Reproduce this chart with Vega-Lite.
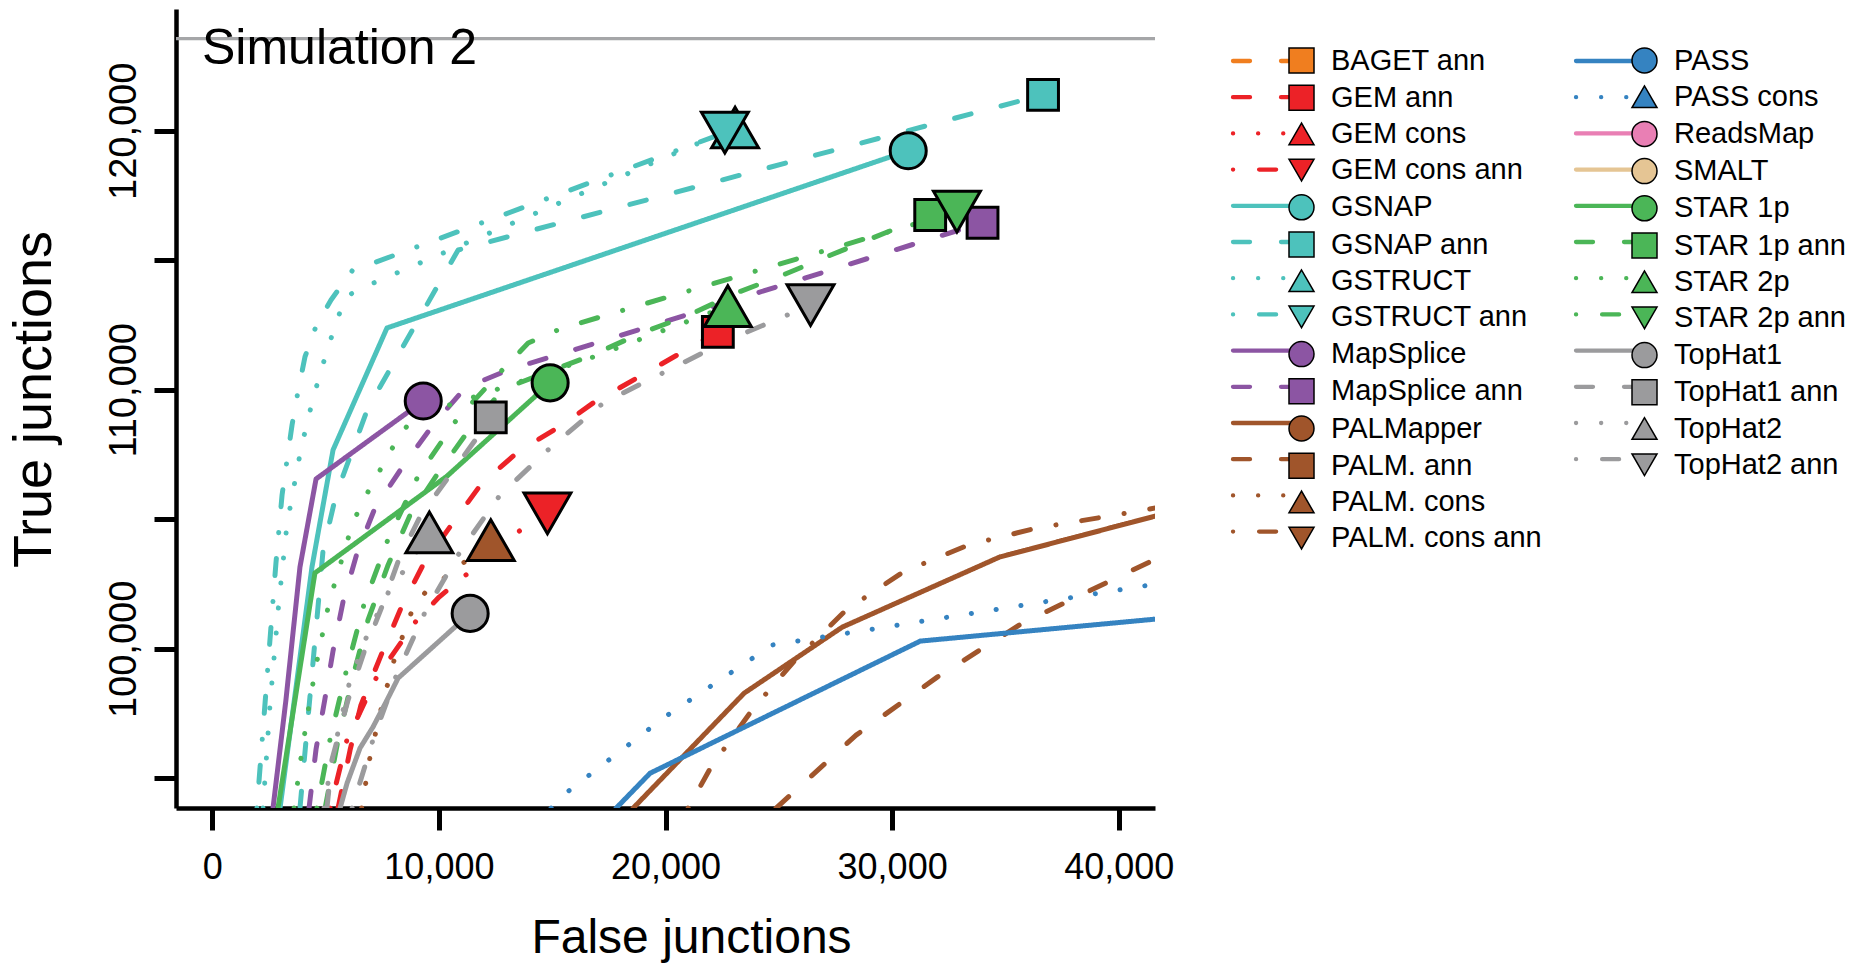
{
  "$schema": "https://vega.github.io/schema/vega-lite/v6.json",
  "width": 979,
  "height": 799,
  "autosize": {"type": "none"},
  "padding": {"left": 176, "top": 9, "right": 711, "bottom": 155},
  "background": "white",
  "title": {"text": "Simulation 2", "anchor": "start", "frame": "group", "orient": "top", "offset": -105, "dx": 26, "fontSize": 50, "font": "Liberation Sans", "fontWeight": "normal", "baseline": "alphabetic", "color": "black"},
  "datasets": {
    "curves": [
      {"series": "GSNAP", "x": 2990, "y": 93850}, {"series": "GSNAP", "x": 4400, "y": 103160}, {"series": "GSNAP", "x": 5330, "y": 107680}, {"series": "GSNAP", "x": 7710, "y": 112390}, {"series": "GSNAP", "x": 30710, "y": 119230},
      {"series": "GSNAP ann", "x": 3870, "y": 93850}, {"series": "GSNAP ann", "x": 4890, "y": 103810}, {"series": "GSNAP ann", "x": 5460, "y": 105940}, {"series": "GSNAP ann", "x": 6870, "y": 109300}, {"series": "GSNAP ann", "x": 10850, "y": 115400}, {"series": "GSNAP ann", "x": 36660, "y": 121390},
      {"series": "GSTRUCT", "x": 2240, "y": 93850}, {"series": "GSTRUCT", "x": 2550, "y": 97870}, {"series": "GSTRUCT", "x": 2940, "y": 101810}, {"series": "GSTRUCT", "x": 3300, "y": 104820}, {"series": "GSTRUCT", "x": 3920, "y": 107750}, {"series": "GSTRUCT", "x": 4450, "y": 109680}, {"series": "GSTRUCT", "x": 5110, "y": 111650}, {"series": "GSTRUCT", "x": 5860, "y": 113580}, {"series": "GSTRUCT", "x": 6700, "y": 113970}, {"series": "GSTRUCT", "x": 23070, "y": 120130},
      {"series": "GSTRUCT ann", "x": 1970, "y": 93850}, {"series": "GSTRUCT ann", "x": 2330, "y": 97910}, {"series": "GSTRUCT ann", "x": 2810, "y": 103310}, {"series": "GSTRUCT ann", "x": 3080, "y": 105940}, {"series": "GSTRUCT ann", "x": 3520, "y": 108640}, {"series": "GSTRUCT ann", "x": 3780, "y": 109920}, {"series": "GSTRUCT ann", "x": 4090, "y": 111270}, {"series": "GSTRUCT ann", "x": 4580, "y": 112460}, {"series": "GSTRUCT ann", "x": 5240, "y": 113470}, {"series": "GSTRUCT ann", "x": 6170, "y": 114590}, {"series": "GSTRUCT ann", "x": 22620, "y": 119930},
      {"series": "MapSplice", "x": 2680, "y": 93850}, {"series": "MapSplice", "x": 3250, "y": 98020}, {"series": "MapSplice", "x": 3870, "y": 103160}, {"series": "MapSplice", "x": 4580, "y": 106560}, {"series": "MapSplice", "x": 9310, "y": 109570},
      {"series": "MapSplice ann", "x": 4270, "y": 93850}, {"series": "MapSplice ann", "x": 4580, "y": 96130}, {"series": "MapSplice ann", "x": 4970, "y": 98060}, {"series": "MapSplice ann", "x": 5330, "y": 99920}, {"series": "MapSplice ann", "x": 5770, "y": 101810}, {"series": "MapSplice ann", "x": 6390, "y": 103700}, {"series": "MapSplice ann", "x": 7180, "y": 105440}, {"series": "MapSplice ann", "x": 8420, "y": 107060}, {"series": "MapSplice ann", "x": 9740, "y": 108640}, {"series": "MapSplice ann", "x": 11150, "y": 110070}, {"series": "MapSplice ann", "x": 13140, "y": 110800}, {"series": "MapSplice ann", "x": 15210, "y": 111340}, {"series": "MapSplice ann", "x": 33990, "y": 116450},
      {"series": "STAR 1p", "x": 2900, "y": 93850}, {"series": "STAR 1p", "x": 4530, "y": 102930}, {"series": "STAR 1p", "x": 10360, "y": 106670}, {"series": "STAR 1p", "x": 14910, "y": 110270},
      {"series": "STAR 1p ann", "x": 4980, "y": 93850}, {"series": "STAR 1p ann", "x": 5550, "y": 96480}, {"series": "STAR 1p ann", "x": 6170, "y": 98800}, {"series": "STAR 1p ann", "x": 6870, "y": 101110}, {"series": "STAR 1p ann", "x": 7760, "y": 103240}, {"series": "STAR 1p ann", "x": 8730, "y": 105170}, {"series": "STAR 1p ann", "x": 10050, "y": 106900}, {"series": "STAR 1p ann", "x": 11330, "y": 108450}, {"series": "STAR 1p ann", "x": 12830, "y": 110030}, {"series": "STAR 1p ann", "x": 16760, "y": 111340}, {"series": "STAR 1p ann", "x": 18920, "y": 112190}, {"series": "STAR 1p ann", "x": 20950, "y": 112850}, {"series": "STAR 1p ann", "x": 23120, "y": 113740}, {"series": "STAR 1p ann", "x": 25060, "y": 114390}, {"series": "STAR 1p ann", "x": 27090, "y": 115130}, {"series": "STAR 1p ann", "x": 29120, "y": 115860}, {"series": "STAR 1p ann", "x": 31680, "y": 116750},
      {"series": "STAR 2p", "x": 3610, "y": 93850}, {"series": "STAR 2p", "x": 3920, "y": 95820}, {"series": "STAR 2p", "x": 4270, "y": 97830}, {"series": "STAR 2p", "x": 4670, "y": 99760}, {"series": "STAR 2p", "x": 5150, "y": 101770}, {"series": "STAR 2p", "x": 5460, "y": 102700}, {"series": "STAR 2p", "x": 6120, "y": 104630}, {"series": "STAR 2p", "x": 6520, "y": 105510}, {"series": "STAR 2p", "x": 7090, "y": 106400}, {"series": "STAR 2p", "x": 7620, "y": 107250}, {"series": "STAR 2p", "x": 8200, "y": 108140}, {"series": "STAR 2p", "x": 8860, "y": 108910}, {"series": "STAR 2p", "x": 9920, "y": 109260}, {"series": "STAR 2p", "x": 11020, "y": 109570}, {"series": "STAR 2p", "x": 16450, "y": 111150}, {"series": "STAR 2p", "x": 22750, "y": 113230},
      {"series": "STAR 2p ann", "x": 4620, "y": 93850}, {"series": "STAR 2p ann", "x": 5200, "y": 96520}, {"series": "STAR 2p ann", "x": 5900, "y": 99100}, {"series": "STAR 2p ann", "x": 6700, "y": 101730}, {"series": "STAR 2p ann", "x": 7760, "y": 104240}, {"series": "STAR 2p ann", "x": 9080, "y": 106670}, {"series": "STAR 2p ann", "x": 10800, "y": 108870}, {"series": "STAR 2p ann", "x": 12920, "y": 110880}, {"series": "STAR 2p ann", "x": 13940, "y": 111810}, {"series": "STAR 2p ann", "x": 15350, "y": 112350}, {"series": "STAR 2p ann", "x": 17110, "y": 112810}, {"series": "STAR 2p ann", "x": 32860, "y": 116880},
      {"series": "TopHat1", "x": 5640, "y": 93850}, {"series": "TopHat1", "x": 5950, "y": 94820}, {"series": "TopHat1", "x": 6520, "y": 96170}, {"series": "TopHat1", "x": 7090, "y": 96980}, {"series": "TopHat1", "x": 7710, "y": 98020}, {"series": "TopHat1", "x": 8200, "y": 98870}, {"series": "TopHat1", "x": 11380, "y": 101370},
      {"series": "TopHat1 ann", "x": 5060, "y": 93850}, {"series": "TopHat1 ann", "x": 5280, "y": 95710}, {"series": "TopHat1 ann", "x": 5990, "y": 98020}, {"series": "TopHat1 ann", "x": 6700, "y": 99880}, {"series": "TopHat1 ann", "x": 7530, "y": 101730}, {"series": "TopHat1 ann", "x": 8240, "y": 103470}, {"series": "TopHat1 ann", "x": 9210, "y": 105170}, {"series": "TopHat1 ann", "x": 10490, "y": 106710}, {"series": "TopHat1 ann", "x": 11770, "y": 108260}, {"series": "TopHat1 ann", "x": 12290, "y": 108940},
      {"series": "TopHat2", "x": 4930, "y": 93850}, {"series": "TopHat2", "x": 5200, "y": 95320}, {"series": "TopHat2", "x": 5550, "y": 96790}, {"series": "TopHat2", "x": 6080, "y": 98800}, {"series": "TopHat2", "x": 6870, "y": 100610}, {"series": "TopHat2", "x": 7890, "y": 102390}, {"series": "TopHat2", "x": 8590, "y": 103160}, {"series": "TopHat2", "x": 9580, "y": 104500},
      {"series": "TopHat2 ann", "x": 6170, "y": 93850}, {"series": "TopHat2 ann", "x": 7090, "y": 96480}, {"series": "TopHat2 ann", "x": 8110, "y": 98950}, {"series": "TopHat2 ann", "x": 9390, "y": 101420}, {"series": "TopHat2 ann", "x": 10930, "y": 103740}, {"series": "TopHat2 ann", "x": 12700, "y": 105940}, {"series": "TopHat2 ann", "x": 14950, "y": 107790}, {"series": "TopHat2 ann", "x": 17250, "y": 109490}, {"series": "TopHat2 ann", "x": 22760, "y": 111920}, {"series": "TopHat2 ann", "x": 26400, "y": 113270},
      {"series": "GEM ann", "x": 5550, "y": 93850}, {"series": "GEM ann", "x": 6080, "y": 96090}, {"series": "GEM ann", "x": 6560, "y": 97830}, {"series": "GEM ann", "x": 7450, "y": 99760}, {"series": "GEM ann", "x": 8330, "y": 101580}, {"series": "GEM ann", "x": 9300, "y": 103240}, {"series": "GEM ann", "x": 10580, "y": 104820}, {"series": "GEM ann", "x": 11900, "y": 106400}, {"series": "GEM ann", "x": 13540, "y": 107640}, {"series": "GEM ann", "x": 15440, "y": 108640}, {"series": "GEM ann", "x": 16800, "y": 109490}, {"series": "GEM ann", "x": 22310, "y": 112240},
      {"series": "GEM cons ann", "x": 5200, "y": 93850}, {"series": "GEM cons ann", "x": 5940, "y": 96480}, {"series": "GEM cons ann", "x": 7230, "y": 98870}, {"series": "GEM cons ann", "x": 8990, "y": 101070}, {"series": "GEM cons ann", "x": 10010, "y": 102000}, {"series": "GEM cons ann", "x": 11240, "y": 102890}, {"series": "GEM cons ann", "x": 13610, "y": 104590}, {"series": "GEM cons ann", "x": 14790, "y": 105230},
      {"series": "PALM. cons", "x": 6590, "y": 93850}, {"series": "PALM. cons", "x": 6960, "y": 95820}, {"series": "PALM. cons", "x": 7480, "y": 97790}, {"series": "PALM. cons", "x": 8060, "y": 99680}, {"series": "PALM. cons", "x": 8860, "y": 101580}, {"series": "PALM. cons", "x": 9520, "y": 102310}, {"series": "PALM. cons", "x": 10490, "y": 102890}, {"series": "PALM. cons", "x": 12290, "y": 104200},
      {"series": "PALMapper", "x": 18570, "y": 93850}, {"series": "PALMapper", "x": 23470, "y": 98290}, {"series": "PALMapper", "x": 27800, "y": 100840}, {"series": "PALMapper", "x": 34730, "y": 103540}, {"series": "PALMapper", "x": 41630, "y": 105130},
      {"series": "PALM. ann", "x": 24880, "y": 93850}, {"series": "PALM. ann", "x": 28410, "y": 96670}, {"series": "PALM. ann", "x": 31990, "y": 98910}, {"series": "PALM. ann", "x": 35740, "y": 100990}, {"series": "PALM. ann", "x": 41630, "y": 103470},
      {"series": "PALM. cons ann", "x": 21000, "y": 93850}, {"series": "PALM. cons ann", "x": 22010, "y": 95440}, {"series": "PALM. cons ann", "x": 23820, "y": 97640}, {"series": "PALM. cons ann", "x": 25720, "y": 99570}, {"series": "PALM. cons ann", "x": 27970, "y": 101500}, {"series": "PALM. cons ann", "x": 30490, "y": 102970}, {"series": "PALM. cons ann", "x": 33360, "y": 104010}, {"series": "PALM. cons ann", "x": 36360, "y": 104660}, {"series": "PALM. cons ann", "x": 39320, "y": 105090}, {"series": "PALM. cons ann", "x": 41630, "y": 105440},
      {"series": "PASS", "x": 17820, "y": 93850}, {"series": "PASS", "x": 19320, "y": 95200}, {"series": "PASS", "x": 31240, "y": 100300}, {"series": "PASS", "x": 41630, "y": 101150},
      {"series": "PASS cons", "x": 14950, "y": 93850}, {"series": "PASS cons", "x": 15480, "y": 94350}, {"series": "PASS cons", "x": 19980, "y": 97380}, {"series": "PASS cons", "x": 24710, "y": 100150}, {"series": "PASS cons", "x": 25810, "y": 100300}, {"series": "PASS cons", "x": 41630, "y": 102500}
    ],
    "markers": [
      {"series": "GSNAP", "x": 30710, "y": 119230},
      {"series": "GSNAP ann", "x": 36660, "y": 121390},
      {"series": "MapSplice", "x": 9310, "y": 109570},
      {"series": "MapSplice ann", "x": 33990, "y": 116450},
      {"series": "GEM ann", "x": 22310, "y": 112240},
      {"series": "PALM. cons", "x": 12290, "y": 104200},
      {"series": "GSTRUCT", "x": 23070, "y": 120130},
      {"series": "GEM cons ann", "x": 14790, "y": 105230},
      {"series": "GSTRUCT ann", "x": 22620, "y": 119930},
      {"series": "STAR 1p", "x": 14910, "y": 110270},
      {"series": "STAR 1p ann", "x": 31680, "y": 116750},
      {"series": "TopHat1", "x": 11380, "y": 101370},
      {"series": "TopHat1 ann", "x": 12290, "y": 108940},
      {"series": "TopHat2", "x": 9580, "y": 104500},
      {"series": "STAR 2p", "x": 22750, "y": 113230},
      {"series": "TopHat2 ann", "x": 26400, "y": 113270},
      {"series": "STAR 2p ann", "x": 32860, "y": 116880}
    ]
  },
  "encoding": {
    "x": {"field": "x", "type": "quantitative", "scale": {"domain": [-1600, 41600], "nice": false, "zero": false},
      "axis": {"title": "False junctions", "values": [0, 10000, 20000, 30000, 40000], "format": ",.0f", "grid": false, "labelFontSize": 36, "labelFont": "Liberation Sans", "labelColor": "black", "labelPadding": 20, "labelFlush": false, "labelOverlap": false, "tickSize": 22, "tickWidth": 5, "tickColor": "black", "domainWidth": 4.5, "domainColor": "black", "domainCap": "butt", "titleFont": "Liberation Sans", "titleFontSize": 48, "titleFontWeight": "normal", "titleColor": "black", "titleX": 515, "titleY": 144, "titleBaseline": "alphabetic", "titleAlign": "center"}},
    "y": {"field": "y", "type": "quantitative", "scale": {"domain": [93857, 124703], "nice": false, "zero": false},
      "axis": {"title": "True junctions", "values": [95000, 100000, 105000, 110000, 115000, 120000], "labelExpr": "datum.value % 10000 === 0 ? format(datum.value, ',') : ''", "grid": false, "labelAngle": 270, "labelAlign": "center", "labelBaseline": "alphabetic", "labelFontSize": 38, "labelFont": "Liberation Sans", "labelColor": "black", "labelPadding": 19, "labelFlush": false, "labelOverlap": false, "tickSize": 22, "tickWidth": 5, "tickColor": "black", "domainWidth": 4.5, "domainColor": "black", "domainCap": "butt", "titleFont": "Liberation Sans", "titleFontSize": 54, "titleFontWeight": "normal", "titleColor": "black", "titleAngle": 270, "titleX": -126, "titleY": 390, "titleBaseline": "alphabetic", "titleAlign": "center"}}
  },
  "layer": [
    {"data": {"values": [{"y": 123560}]},
     "mark": {"type": "rule", "color": "#a5a6a8", "strokeWidth": 3.3},
     "encoding": {"x": null}},
    {
      "data": {"name": "curves"},
      "transform": [{"filter": {"field": "series", "oneOf": ["BAGET ann", "GEM ann", "GEM cons", "GEM cons ann", "GSNAP", "GSNAP ann", "GSTRUCT", "GSTRUCT ann", "MapSplice", "MapSplice ann", "PALMapper", "PALM. ann", "PALM. cons", "PALM. cons ann"]}}],
      "mark": {"type": "line", "strokeWidth": 5, "strokeCap": "round", "strokeJoin": "round", "clip": true},
      "encoding": {
        "stroke": {"field": "series", "type": "nominal",
          "scale": {"domain": ["PALM. cons ann", "PALM. cons", "PALM. ann", "PALMapper", "MapSplice ann", "MapSplice", "GSTRUCT ann", "GSTRUCT", "GSNAP ann", "GSNAP", "GEM cons ann", "GEM cons", "GEM ann", "BAGET ann"],
            "range": ["#a0552b", "#a0552b", "#a0552b", "#a0552b", "#8c55a3", "#8c55a3", "#4dc2bc", "#4dc2bc", "#4dc2bc", "#4dc2bc", "#ec2227", "#ec2227", "#ec2227", "#f07e1f"]},
          "legend": {"values": ["BAGET ann", "GEM ann", "GEM cons", "GEM cons ann", "GSNAP", "GSNAP ann", "GSTRUCT", "GSTRUCT ann", "MapSplice", "MapSplice ann", "PALMapper", "PALM. ann", "PALM. cons", "PALM. cons ann"], "orient": "none", "legendX": 1111, "legendY": 37, "title": null, "padding": 0, "symbolType": "M-5.52,0H0", "symbolSize": 625, "symbolStrokeWidth": 4.3, "labelFontSize": 29, "labelFont": "Liberation Sans", "labelExpr": "''", "labelOffset": 15, "rowPadding": 6.2, "labelLimit": 400, "encode": {"symbols": {"update": {"strokeCap": {"value": "round"}}}}}},
        "strokeDash": {"field": "series", "type": "nominal",
          "scale": {"domain": ["PALM. cons ann", "PALM. cons", "PALM. ann", "PALMapper", "MapSplice ann", "MapSplice", "GSTRUCT ann", "GSTRUCT", "GSNAP ann", "GSNAP", "GEM cons ann", "GEM cons", "GEM ann", "BAGET ann"],
            "range": [[0.1, 26, 17, 26], [0.1, 25], [17, 31], [1, 0], [17, 31], [1, 0], [0.1, 26, 17, 26], [0.1, 25], [17, 31], [1, 0], [0.1, 26, 17, 26], [0.1, 25], [17, 31], [17, 31]]},
          "legend": {"values": ["BAGET ann", "GEM ann", "GEM cons", "GEM cons ann", "GSNAP", "GSNAP ann", "GSTRUCT", "GSTRUCT ann", "MapSplice", "MapSplice ann", "PALMapper", "PALM. ann", "PALM. cons", "PALM. cons ann"], "orient": "none", "legendX": 1111, "legendY": 37, "title": null, "padding": 0, "symbolType": "M-5.52,0H0", "symbolSize": 625, "symbolStrokeWidth": 4.3, "labelFontSize": 29, "labelFont": "Liberation Sans", "labelExpr": "''", "labelOffset": 15, "rowPadding": 6.2, "labelLimit": 400}}
      }
    },
    {
      "data": {"name": "curves"},
      "transform": [{"filter": {"field": "series", "oneOf": ["PASS", "PASS cons", "ReadsMap", "SMALT", "STAR 1p", "STAR 1p ann", "STAR 2p", "STAR 2p ann", "TopHat1", "TopHat1 ann", "TopHat2", "TopHat2 ann"]}}],
      "mark": {"type": "line", "strokeWidth": 5, "strokeCap": "round", "strokeJoin": "round", "clip": true},
      "encoding": {
        "stroke": {"field": "series", "type": "nominal",
          "scale": {"domain": ["TopHat2 ann", "TopHat2", "TopHat1 ann", "TopHat1", "STAR 2p ann", "STAR 2p", "STAR 1p ann", "STAR 1p", "SMALT", "ReadsMap", "PASS cons", "PASS"],
            "range": ["#9b9b9d", "#9b9b9d", "#9b9b9d", "#9b9b9d", "#4bb657", "#4bb657", "#4bb657", "#4bb657", "#e5c594", "#e97fb4", "#3583c1", "#3583c1"]},
          "legend": {"values": ["PASS", "PASS cons", "ReadsMap", "SMALT", "STAR 1p", "STAR 1p ann", "STAR 2p", "STAR 2p ann", "TopHat1", "TopHat1 ann", "TopHat2", "TopHat2 ann"], "orient": "none", "legendX": 1454, "legendY": 37, "title": null, "padding": 0, "symbolType": "M-5.52,0H0", "symbolSize": 625, "symbolStrokeWidth": 4.3, "labelFontSize": 29, "labelFont": "Liberation Sans", "labelExpr": "''", "labelOffset": 15, "rowPadding": 6.2, "labelLimit": 400, "encode": {"symbols": {"update": {"strokeCap": {"value": "round"}}}}}},
        "strokeDash": {"field": "series", "type": "nominal",
          "scale": {"domain": ["TopHat2 ann", "TopHat2", "TopHat1 ann", "TopHat1", "STAR 2p ann", "STAR 2p", "STAR 1p ann", "STAR 1p", "SMALT", "ReadsMap", "PASS cons", "PASS"],
            "range": [[0.1, 26, 17, 26], [0.1, 25], [17, 31], [1, 0], [0.1, 26, 17, 26], [0.1, 25], [17, 31], [1, 0], [1, 0], [1, 0], [0.1, 25], [1, 0]]},
          "legend": {"values": ["PASS", "PASS cons", "ReadsMap", "SMALT", "STAR 1p", "STAR 1p ann", "STAR 2p", "STAR 2p ann", "TopHat1", "TopHat1 ann", "TopHat2", "TopHat2 ann"], "orient": "none", "legendX": 1454, "legendY": 37, "title": null, "padding": 0, "symbolType": "M-5.52,0H0", "symbolSize": 625, "symbolStrokeWidth": 4.3, "labelFontSize": 29, "labelFont": "Liberation Sans", "labelExpr": "''", "labelOffset": 15, "rowPadding": 6.2, "labelLimit": 400}}
      }
    },
    {
      "data": {"name": "markers"},
      "transform": [{"filter": {"field": "series", "oneOf": ["BAGET ann", "GEM ann", "GEM cons", "GEM cons ann", "GSNAP", "GSNAP ann", "GSTRUCT", "GSTRUCT ann", "MapSplice", "MapSplice ann", "PALMapper", "PALM. ann", "PALM. cons", "PALM. cons ann"]}}],
      "mark": {"type": "point", "filled": true, "stroke": "black", "strokeWidth": 3, "opacity": 1},
      "encoding": {
        "fill": {"field": "series", "type": "nominal",
          "scale": {"domain": ["BAGET ann", "GEM ann", "GEM cons", "GEM cons ann", "GSNAP", "GSNAP ann", "GSTRUCT", "GSTRUCT ann", "MapSplice", "MapSplice ann", "PALMapper", "PALM. ann", "PALM. cons", "PALM. cons ann"],
            "range": ["#f07e1f", "#ec2227", "#ec2227", "#ec2227", "#4dc2bc", "#4dc2bc", "#4dc2bc", "#4dc2bc", "#8c55a3", "#8c55a3", "#a0552b", "#a0552b", "#a0552b", "#a0552b"]},
          "legend": {"orient": "none", "legendX": 1111, "legendY": 37, "title": null, "padding": 0, "symbolSize": 625, "labelFontSize": 29, "labelFont": "Liberation Sans", "labelColor": "black", "labelOffset": 15, "rowPadding": 6.2, "labelLimit": 400,
            "encode": {"symbols": {"update": {"stroke": {"value": "black"}, "strokeWidth": {"value": 2}, "opacity": {"value": 1}, "size": {"signal": "indexof(['GEM cons','GEM cons ann','GSTRUCT','GSTRUCT ann','PALM. cons','PALM. cons ann','PASS cons','STAR 2p','STAR 2p ann','TopHat2','TopHat2 ann'], datum.value) >= 0 ? 620 : (indexof(['BAGET ann','GEM ann','GSNAP ann','MapSplice ann','PALM. ann','STAR 1p ann','TopHat1 ann'], datum.value) >= 0 ? 330 : 420)"}}}}}},
        "shape": {"field": "series", "type": "nominal",
          "scale": {"domain": ["BAGET ann", "GEM ann", "GEM cons", "GEM cons ann", "GSNAP", "GSNAP ann", "GSTRUCT", "GSTRUCT ann", "MapSplice", "MapSplice ann", "PALMapper", "PALM. ann", "PALM. cons", "PALM. cons ann"],
            "range": ["square", "square", "triangle-up", "triangle-down", "circle", "square", "triangle-up", "triangle-down", "circle", "square", "circle", "square", "triangle-up", "triangle-down"]},
          "legend": {"orient": "none", "legendX": 1111, "legendY": 37, "title": null, "padding": 0, "symbolSize": 625, "labelFontSize": 29, "labelFont": "Liberation Sans", "labelColor": "black", "labelOffset": 15, "rowPadding": 6.2, "labelLimit": 400}},
        "size": {"field": "series", "type": "nominal", "legend": null,
          "scale": {"type": "ordinal", "domain": ["PALM. cons ann", "PALM. cons", "PALM. ann", "PALMapper", "MapSplice ann", "MapSplice", "GSTRUCT ann", "GSTRUCT", "GSNAP ann", "GSNAP", "GEM cons ann", "GEM cons", "GEM ann", "BAGET ann"],
            "range": [2200, 2200, 950, 1300, 950, 1300, 2200, 2200, 950, 1300, 2200, 2200, 950, 950]}}
      }
    },
    {
      "data": {"name": "markers"},
      "transform": [{"filter": {"field": "series", "oneOf": ["PASS", "PASS cons", "ReadsMap", "SMALT", "STAR 1p", "STAR 1p ann", "STAR 2p", "STAR 2p ann", "TopHat1", "TopHat1 ann", "TopHat2", "TopHat2 ann"]}}],
      "mark": {"type": "point", "filled": true, "stroke": "black", "strokeWidth": 3, "opacity": 1},
      "encoding": {
        "fill": {"field": "series", "type": "nominal",
          "scale": {"domain": ["PASS", "PASS cons", "ReadsMap", "SMALT", "STAR 1p", "STAR 1p ann", "STAR 2p", "STAR 2p ann", "TopHat1", "TopHat1 ann", "TopHat2", "TopHat2 ann"],
            "range": ["#3583c1", "#3583c1", "#e97fb4", "#e5c594", "#4bb657", "#4bb657", "#4bb657", "#4bb657", "#9b9b9d", "#9b9b9d", "#9b9b9d", "#9b9b9d"]},
          "legend": {"orient": "none", "legendX": 1454, "legendY": 37, "title": null, "padding": 0, "symbolSize": 625, "labelFontSize": 29, "labelFont": "Liberation Sans", "labelColor": "black", "labelOffset": 15, "rowPadding": 6.2, "labelLimit": 400,
            "encode": {"symbols": {"update": {"stroke": {"value": "black"}, "strokeWidth": {"value": 2}, "opacity": {"value": 1}, "size": {"signal": "indexof(['GEM cons','GEM cons ann','GSTRUCT','GSTRUCT ann','PALM. cons','PALM. cons ann','PASS cons','STAR 2p','STAR 2p ann','TopHat2','TopHat2 ann'], datum.value) >= 0 ? 620 : (indexof(['BAGET ann','GEM ann','GSNAP ann','MapSplice ann','PALM. ann','STAR 1p ann','TopHat1 ann'], datum.value) >= 0 ? 330 : 420)"}}}}}},
        "shape": {"field": "series", "type": "nominal",
          "scale": {"domain": ["PASS", "PASS cons", "ReadsMap", "SMALT", "STAR 1p", "STAR 1p ann", "STAR 2p", "STAR 2p ann", "TopHat1", "TopHat1 ann", "TopHat2", "TopHat2 ann"],
            "range": ["circle", "triangle-up", "circle", "circle", "circle", "square", "triangle-up", "triangle-down", "circle", "square", "triangle-up", "triangle-down"]},
          "legend": {"orient": "none", "legendX": 1454, "legendY": 37, "title": null, "padding": 0, "symbolSize": 625, "labelFontSize": 29, "labelFont": "Liberation Sans", "labelColor": "black", "labelOffset": 15, "rowPadding": 6.2, "labelLimit": 400}},
        "size": {"field": "series", "type": "nominal", "legend": null,
          "scale": {"type": "ordinal", "domain": ["TopHat2 ann", "TopHat2", "TopHat1 ann", "TopHat1", "STAR 2p ann", "STAR 2p", "STAR 1p ann", "STAR 1p", "SMALT", "ReadsMap", "PASS cons", "PASS"],
            "range": [2200, 2200, 950, 1300, 2200, 2200, 950, 1300, 1300, 1300, 2200, 1300]}}
      }
    }
  ],
  "resolve": {
    "scale": {"stroke": "independent", "strokeDash": "independent", "fill": "independent", "shape": "independent", "size": "independent"},
    "legend": {"stroke": "independent", "strokeDash": "independent", "fill": "independent", "shape": "independent", "size": "independent"}
  },
  "config": {
    "view": {"stroke": null},
    "font": "Liberation Sans",
    "legend": {"labelFont": "Liberation Sans", "labelColor": "black"}
  }
}
